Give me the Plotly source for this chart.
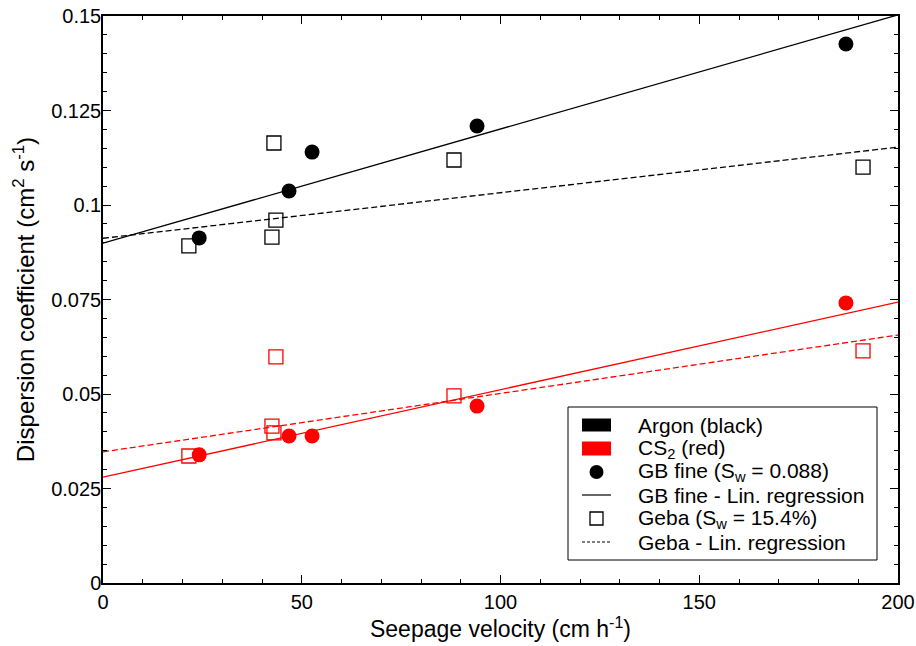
import plotly.graph_objects as go

# ---- data ----
gb_v = [24.2, 46.8, 52.6, 94.1, 186.9]
gb_argon = [0.0913, 0.1037, 0.1140, 0.1209, 0.1426]
gb_cs2 = [0.0339, 0.0389, 0.0389, 0.0468, 0.0741]

geba_v_argon = [21.6, 43.0, 42.5, 43.5, 88.3, 191.2]
geba_argon = [0.0892, 0.1164, 0.0915, 0.0960, 0.1119, 0.1100]
geba_v_cs2 = [21.6, 43.5, 42.5, 43.0, 88.3, 191.2]
geba_cs2 = [0.0336, 0.0598, 0.0415, 0.0397, 0.0495, 0.0614]

fit_v = [0, 200]
fit_gb_argon = [0.0899, 0.1503]
fit_geba_argon = [0.0912, 0.1153]
fit_gb_cs2 = [0.0280, 0.0743]
fit_geba_cs2 = [0.0347, 0.0656]

legend_labels = ["Argon (black)", "CS<sub>2</sub> (red)", "GB fine (S<sub>w</sub> = 0.088)",
                 "GB fine - Lin. regression", "Geba (S<sub>w</sub> = 15.4%)", "Geba - Lin. regression"]

BLACK = "#000000"
RED = "#ff0000"
FONT = "Liberation Sans, Arial, sans-serif"
DASH = "6px,3px"

W, H = 916, 646
ML, MR, MT, MB = 103, 18, 16, 63
PW, PH = W - ML - MR, H - MT - MB


def px(x):  # pixel -> paper x
    return (x - ML) / PW


def py(y):  # pixel -> paper y
    return (H - MB - y) / PH


fig = go.Figure()

# regression lines
for y, col, dash in [(fit_gb_argon, BLACK, "solid"), (fit_geba_argon, BLACK, DASH),
                     (fit_gb_cs2, RED, "solid"), (fit_geba_cs2, RED, DASH)]:
    fig.add_trace(go.Scatter(x=fit_v, y=y, mode="lines", showlegend=False,
                             line=dict(color=col, width=1.3, dash=dash), hoverinfo="skip"))

# Geba squares
fig.add_trace(go.Scatter(x=geba_v_argon, y=geba_argon, mode="markers", showlegend=False,
                         marker=dict(symbol="square-open", size=14, color=BLACK, line=dict(width=1.3))))
fig.add_trace(go.Scatter(x=geba_v_cs2, y=geba_cs2, mode="markers", showlegend=False,
                         marker=dict(symbol="square-open", size=14, color=RED, line=dict(width=1.3))))
# GB fine circles
fig.add_trace(go.Scatter(x=gb_v, y=gb_argon, mode="markers", showlegend=False,
                         marker=dict(symbol="circle", size=15, color=BLACK)))
fig.add_trace(go.Scatter(x=gb_v, y=gb_cs2, mode="markers", showlegend=False,
                         marker=dict(symbol="circle", size=15, color=RED)))

# ---- legend box (drawn in paper coordinates) ----
shapes = []
shapes.append(dict(type="rect", xref="paper", yref="paper", x0=px(568), x1=px(877), y0=py(560), y1=py(407),
                   line=dict(color=BLACK, width=1), fillcolor="white", layer="above"))
rows = [425, 448.5, 472, 495, 518.5, 542]
sx0, sx1 = 582, 611
sc = (sx0 + sx1) / 2
# swatches
shapes.append(dict(type="rect", xref="paper", yref="paper", x0=px(sx0), x1=px(sx1),
                   y0=py(rows[0] + 6.5), y1=py(rows[0] - 6.5), line=dict(width=0), fillcolor=BLACK, layer="above"))
shapes.append(dict(type="rect", xref="paper", yref="paper", x0=px(sx0), x1=px(sx1),
                   y0=py(rows[1] + 7), y1=py(rows[1] - 7), line=dict(width=0), fillcolor=RED, layer="above"))
shapes.append(dict(type="circle", xref="paper", yref="paper", x0=px(sc - 7), x1=px(sc + 7),
                   y0=py(rows[2] + 7), y1=py(rows[2] - 7), line=dict(width=0), fillcolor=BLACK, layer="above"))
shapes.append(dict(type="line", xref="paper", yref="paper", x0=px(sx0), x1=px(sx1),
                   y0=py(rows[3]), y1=py(rows[3]), line=dict(color=BLACK, width=1.2), layer="above"))
shapes.append(dict(type="rect", xref="paper", yref="paper", x0=px(sc - 6.5), x1=px(sc + 6.5),
                   y0=py(rows[4] + 6.5), y1=py(rows[4] - 6.5), line=dict(color=BLACK, width=1.3),
                   fillcolor="white", layer="above"))
shapes.append(dict(type="line", xref="paper", yref="paper", x0=px(sx0), x1=px(sx1),
                   y0=py(rows[5]), y1=py(rows[5]), line=dict(color=BLACK, width=1.2, dash="3px,2px"),
                   layer="above"))

annotations = []
for lab, r in zip(legend_labels, rows):
    annotations.append(dict(text=lab, xref="paper", yref="paper", x=px(636), y=py(r),
                            xanchor="left", yanchor="middle", showarrow=False,
                            font=dict(family=FONT, size=21, color=BLACK)))

axis_common = dict(showgrid=False, zeroline=False, showline=True, linecolor=BLACK, linewidth=1.5,
                   mirror="allticks", ticks="inside", ticklen=8, tickwidth=1.3, tickcolor=BLACK,
                   automargin=False,
                   tickfont=dict(family=FONT, size=20, color=BLACK))

fig.update_xaxes(range=[0, 200], dtick=50, tick0=0,
                 minor=dict(dtick=10, ticks="inside", ticklen=4, tickwidth=1, tickcolor=BLACK),
                 title=dict(text="Seepage velocity (cm h<sup>-1</sup>)", font=dict(family=FONT, size=23, color=BLACK),
                            standoff=4),
                 **axis_common)
fig.update_yaxes(range=[0, 0.15], dtick=0.025, tick0=0, ticklabelstandoff=-4,
                 minor=dict(dtick=0.005, ticks="inside", ticklen=4, tickwidth=1, tickcolor=BLACK),
                 title=dict(text="Dispersion coefficient (cm<sup>2</sup> s<sup>-1</sup>)",
                            font=dict(family=FONT, size=24, color=BLACK), standoff=10),
                 **axis_common)

fig.update_layout(
    width=W, height=H,
    margin=dict(l=ML, r=MR, t=MT, b=MB),
    paper_bgcolor="white", plot_bgcolor="white",
    font=dict(family=FONT, color=BLACK),
    showlegend=False,
    shapes=shapes,
    annotations=annotations,
)

fig.write_html("out.html", config={"displayModeBar": False},
               post_script="document.body.style.margin='0';document.body.style.padding='0';")
